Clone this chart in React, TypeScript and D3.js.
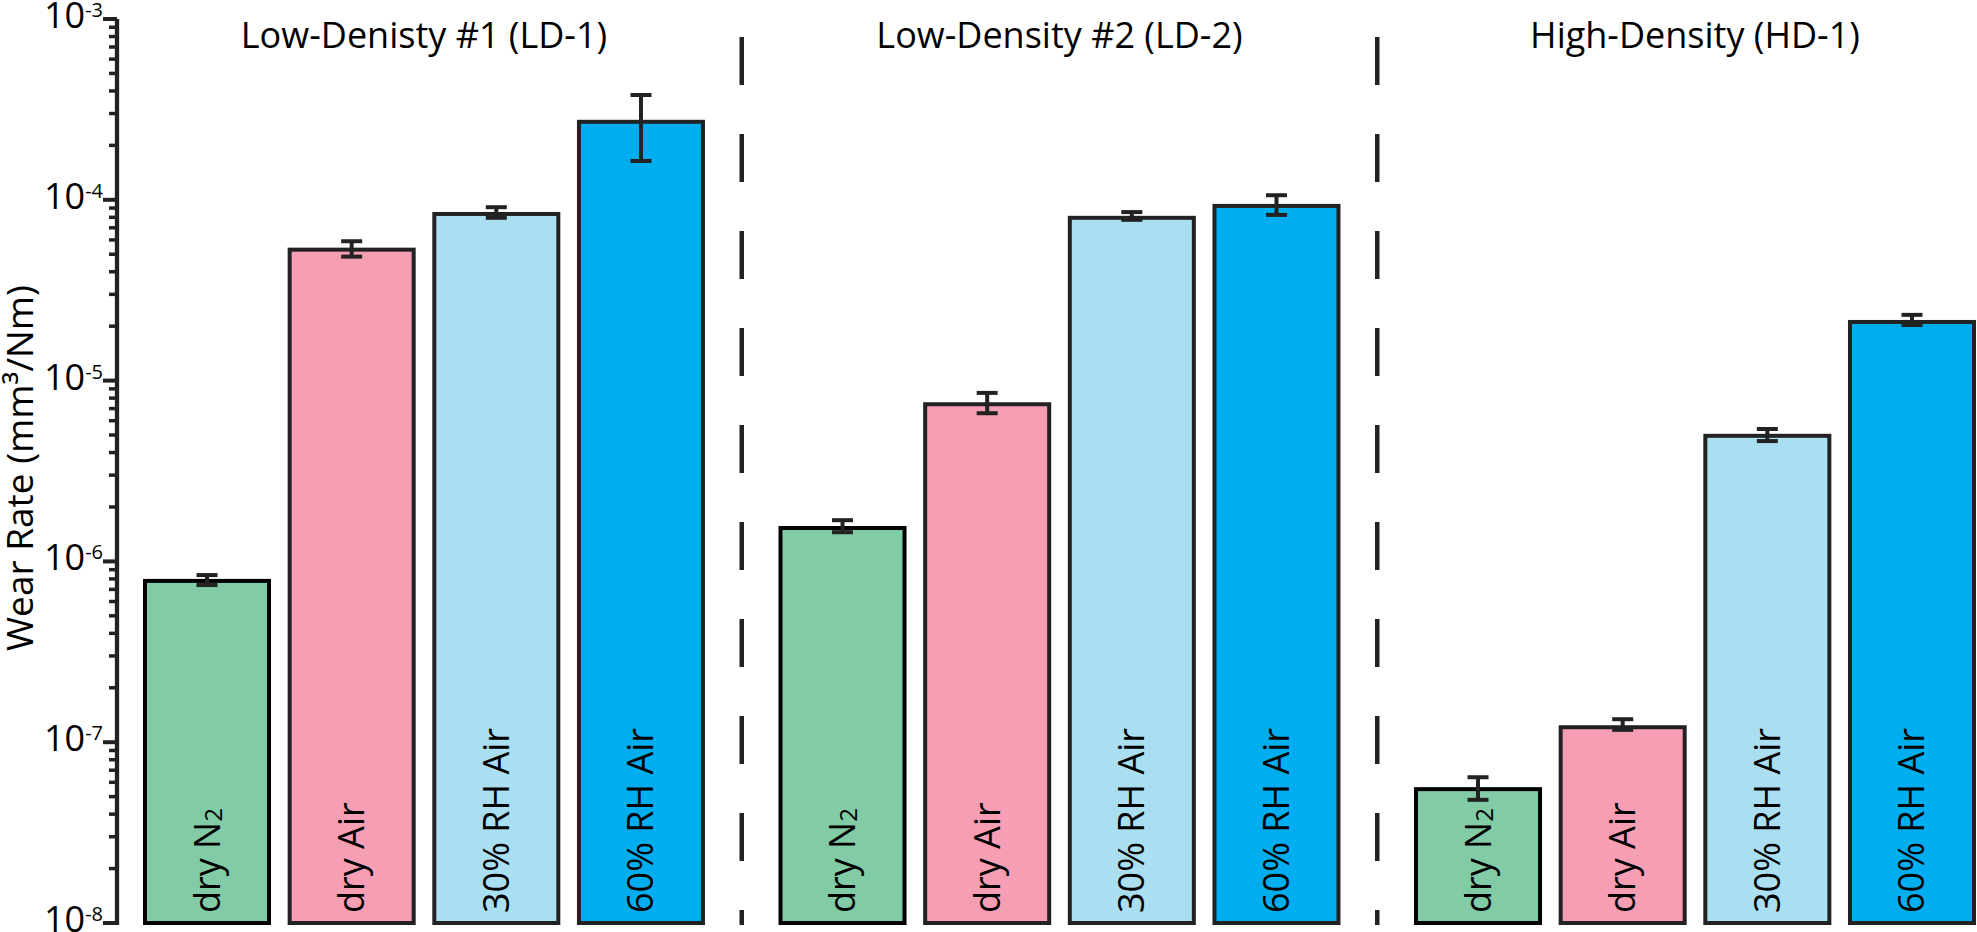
import React from 'react'
import * as d3 from 'd3'

// groups and conditions
const groups = ['Low-Denisty #1 (LD-1)', 'Low-Density #2 (LD-2)', 'High-Density (HD-1)']
const conditions = ['dry N2', 'dry Air', '30% RH Air', '60% RH Air']
const conditionColors = ['#82CBA7', '#F59EB4', '#AADEF1', '#00AEEF']

// wear rate (mm^3/Nm) per group, in condition order
const ld1Values = [7.8e-7, 5.3e-5, 8.35e-5, 2.7e-4]
const ld2Values = [1.53e-6, 7.4e-6, 7.95e-5, 9.25e-5]
const hd1Values = [5.5e-8, 1.21e-7, 4.95e-6, 2.11e-5]

// error bar ends
const ld1Low = [7.4e-7, 4.85e-5, 7.95e-5, 1.64e-4]
const ld1High = [8.4e-7, 5.9e-5, 9.1e-5, 3.8e-4]
const ld2Low = [1.45e-6, 6.6e-6, 7.75e-5, 8.25e-5]
const ld2High = [1.69e-6, 8.55e-6, 8.55e-5, 1.06e-4]
const hd1Low = [4.8e-8, 1.17e-7, 4.63e-6, 2.03e-5]
const hd1High = [6.4e-8, 1.34e-7, 5.4e-6, 2.31e-5]

const values = [ld1Values, ld2Values, hd1Values]
const lows = [ld1Low, ld2Low, hd1Low]
const highs = [ld1High, ld2High, hd1High]

const yDomain: [number, number] = [1e-8, 1e-3]

const width = 1977
const height = 932
const font = "'Open Sans', sans-serif"
const ink = '#222'

const App: React.FC = () => {
  const y = d3.scaleLog().domain(yDomain).range([923, 19])

  const xGroup = d3.scaleBand<string>()
    .domain(groups)
    .range([143, 1976])
    .paddingInner(0.1157)
    .paddingOuter(0)

  const xCond = d3.scaleBand<string>()
    .domain(conditions)
    .range([0, xGroup.bandwidth()])
    .paddingInner(0.115)
    .paddingOuter(0)

  const axisX = 117
  const majorTicks = y.ticks().filter(t => Math.abs(Math.log10(t) - Math.round(Math.log10(t))) < 1e-9)
  const minorTicks = y.ticks().filter(t => !majorTicks.includes(t))

  const bw = xCond.bandwidth()
  const capHalf = 10.5

  // dashed separators halfway between groups
  const separators = groups.slice(1).map((g, i) => {
    const prevEnd = xGroup(groups[i])! + xGroup.bandwidth()
    return (prevEnd + xGroup(g)!) / 2
  })

  return (
    <svg width={width} height={height} style={{ position: 'absolute', left: 0, top: 0, background: '#fff' }}
      fontFamily={font}>
      {/* group titles */}
      {groups.map(g => (
        <text key={g} x={xGroup(g)! + xGroup.bandwidth() / 2} y={48} textAnchor="middle" fontSize={36} fill="#000">
          {g}
        </text>
      ))}

      {separators.map((sx, i) => (
        <line key={i} x1={sx} x2={sx} y1={19} y2={925} stroke={ink} strokeWidth={4.5}
          strokeDasharray="48 49" strokeDashoffset={79} />
      ))}

      {/* bars */}
      {groups.map((g, gi) => conditions.map((c, ci) => {
        const x0 = xGroup(g)! + xCond(c)!
        const v = values[gi][ci]
        const cx = x0 + bw / 2
        return (
          <g key={g + c}>
            <rect x={x0 + 2} y={y(v)} width={bw - 4} height={y(yDomain[0]) - y(v)}
              fill={conditionColors[ci]} stroke={ci === 0 ? '#000' : ink} strokeWidth={4} />
            <line x1={cx} x2={cx} y1={y(highs[gi][ci])} y2={y(lows[gi][ci])} stroke={ink} strokeWidth={4} />
            <line x1={cx - capHalf} x2={cx + capHalf} y1={y(highs[gi][ci])} y2={y(highs[gi][ci])} stroke={ink} strokeWidth={4} />
            <line x1={cx - capHalf} x2={cx + capHalf} y1={y(lows[gi][ci])} y2={y(lows[gi][ci])} stroke={ink} strokeWidth={4} />
            <text transform={`translate(${cx + 12.5},${y(yDomain[0]) - 10}) rotate(-90)`} fontSize={36} fill="#000">
              {c === 'dry N2'
                ? (<>dry N<tspan fontSize={24} dy={2}>2</tspan></>)
                : c}
            </text>
          </g>
        )
      }))}

      {/* y axis */}
      <line x1={axisX} x2={axisX} y1={19} y2={925} stroke={ink} strokeWidth={4.3} />
      {majorTicks.map(t => (
        <line key={'M' + t} x1={axisX - 14} x2={axisX} y1={y(t)} y2={y(t)} stroke={ink} strokeWidth={4} />
      ))}
      {minorTicks.map(t => (
        <line key={'m' + t} x1={axisX - 8} x2={axisX} y1={y(t)} y2={y(t)} stroke={ink} strokeWidth={3.5} />
      ))}
      {majorTicks.map(t => (
        <text key={'L' + t} x={103} y={y(t) + 9} textAnchor="end" fontSize={36} fill="#000">
          10<tspan fontSize={20} dy={-11}>{Math.round(Math.log10(t))}</tspan>
        </text>
      ))}

      <text transform="translate(33,468) rotate(-90)" textAnchor="middle" fontSize={37} fill="#000">
        Wear Rate (mm³/Nm)
      </text>
    </svg>
  )
}

export default App
